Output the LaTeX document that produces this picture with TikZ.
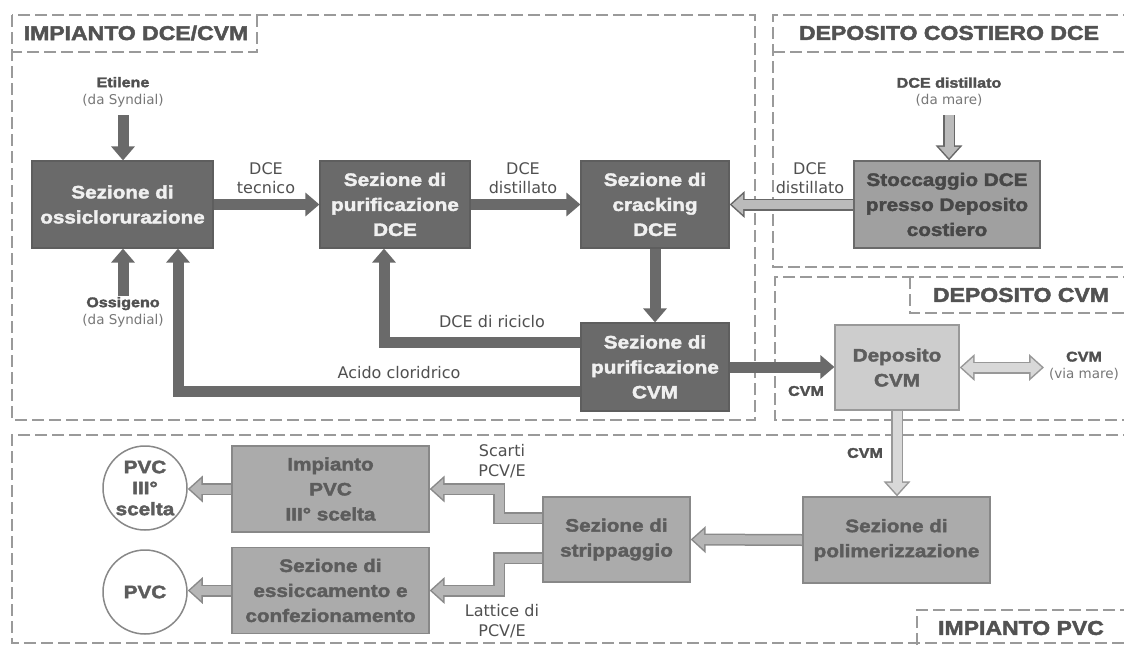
\documentclass[tikz,border=0pt]{standalone}
\usepackage{fontspec}
\setmainfont{DejaVu Sans}
\newfontfamily\blackfont[FakeStretch=1.15,FakeBold=2.2]{Liberation Sans Bold}
\usetikzlibrary{arrows.meta,calc}
\pgfdeclarelayer{bg}
\pgfsetlayers{bg,main}
\definecolor{dkfill}{HTML}{6A6A6A}
\definecolor{dkline}{HTML}{5E5E5E}
\definecolor{dktext}{HTML}{F0F0F0}
\definecolor{dkarr}{HTML}{6A6A6A}
\definecolor{sfill}{HTML}{A0A0A0}
\definecolor{sline}{HTML}{6A6A6A}
\definecolor{stext}{HTML}{474747}
\definecolor{lfill}{HTML}{CDCDCD}
\definecolor{lline}{HTML}{999999}
\definecolor{ltext}{HTML}{5E5E5E}
\definecolor{mfill}{HTML}{ABABAB}
\definecolor{mline}{HTML}{888888}
\definecolor{mtext}{HTML}{5C5C5C}
\definecolor{cline}{HTML}{888888}
\definecolor{regcol}{HTML}{9A9A9A}
\definecolor{ttext}{HTML}{525252}
\definecolor{labcol}{HTML}{505050}
\definecolor{parcol}{HTML}{777777}
\definecolor{aout}{HTML}{686868}
\definecolor{ain}{HTML}{BBBBBB}
\definecolor{bout}{HTML}{989898}
\definecolor{bin}{HTML}{D8D8D8}
\definecolor{cout}{HTML}{8A8A8A}
\definecolor{cin}{HTML}{B6B6B6}
\newcommand\boxfont{\blackfont\fontsize{18}{25}\selectfont}
\newcommand\circfont{\blackfont\fontsize{18}{21}\selectfont}
\newcommand\titlefont{\blackfont\fontsize{20}{24}\selectfont}
\newcommand\labfont{\rmfamily\fontsize{16}{19.5}\selectfont}
\newcommand\blabfont{\blackfont\fontsize{14}{17}\selectfont}
\newcommand\parenfont{\rmfamily\fontsize{13.5}{17}\selectfont\color{parcol}}
\begin{document}
\begin{tikzpicture}[x=1pt,y=-1pt,
  box/.style={rectangle, line width=1.2pt, align=center, inner sep=2pt, font=\boxfont},
  dbox/.style={box, fill=dkfill, draw=dkline, text=dktext},
  sbox/.style={box, fill=sfill, draw=sline, text=stext},
  lbox/.style={box, fill=lfill, draw=lline, text=ltext},
  mbox/.style={box, fill=mfill, draw=mline, text=mtext},
  circnode/.style={circle, draw=cline, line width=1.5pt, fill=white, minimum size=84pt, inner sep=0pt},
  circtext/.style={align=center, font=\circfont, text=mtext},
  region/.style={draw=regcol, line width=2.5pt, dash pattern=on 12pt off 5pt},
  rtitle/.style={font=\titlefont, text=ttext},
  lab/.style={align=center, font=\labfont, text=labcol},
  blab/.style={align=center, font=\blabfont, text=labcol},
  darr/.style={draw=dkarr, line width=11pt, -{Triangle[width=23pt,length=14pt]}},
  oout/.style={draw=#1, line width=12pt, >={Triangle[width=26pt,length=15pt]}},
  oin/.style={draw=#1, line width=9pt, shorten >=2.3pt, >={Triangle[width=19.4pt,length=11.2pt]}},
]
\useasboundingbox (0,0) rectangle (1124,645);

% process boxes
\node[dbox, minimum width=181pt, minimum height=87pt] (oss) at (122.5,204.5) {Sezione di\\ossiclorurazione};
\node[dbox, minimum width=150pt, minimum height=87pt] (purDCE) at (395,204.5) {Sezione di\\purificazione\\DCE};
\node[dbox, minimum width=148pt, minimum height=87pt] (crack) at (655,204.5) {Sezione di\\cracking\\DCE};
\node[dbox, minimum width=148pt, minimum height=88pt] (purCVM) at (655,367) {Sezione di\\purificazione\\CVM};
\node[sbox, minimum width=186pt, minimum height=87pt] (stocc) at (947,204.5) {Stoccaggio DCE\\presso Deposito\\costiero};
\node[lbox, minimum width=124pt, minimum height=85pt] (depCVM) at (897,367.5) {Deposito\\CVM};
\node[mbox, minimum width=187pt, minimum height=86pt] (polim) at (896.5,540) {Sezione di\\polimerizzazione};
\node[mbox, minimum width=147pt, minimum height=85pt] (stripp) at (616.5,539.5) {Sezione di\\strippaggio};
\node[mbox, minimum width=197pt, minimum height=86pt] (impPVC) at (330.5,489) {Impianto\\PVC\\III° scelta};
\node[mbox, minimum width=197pt, minimum height=86pt] (essic) at (330.5,590.5) {Sezione di\\essiccamento e\\confezionamento};
\node[circnode] (c1) at (145,488) {};
\node[circtext] (c1t) at (c1) {PVC\\III°\\scelta};
\node[circnode] (c2) at (145,592) {};
\node[circtext] (c2t) at (c2) {PVC};

% region titles
\node[rtitle] (t1) at (136,33) {IMPIANTO DCE/CVM};
\node[rtitle] (t2) at (949,33) {DEPOSITO COSTIERO DCE};
\node[rtitle] (t3) at (1021,295) {DEPOSITO CVM};
\node[rtitle] (t4) at (1021,628) {IMPIANTO PVC};

% labels
\node[blab] (letil) at (123,92) {Etilene\\{\parenfont (da Syndial)}};
\node[blab] (lossi) at (123,312) {Ossigeno\\{\parenfont (da Syndial)}};
\node[blab] (lmare) at (949,92) {DCE distillato\\{\parenfont (da mare)}};
\node[blab] (lvia) at (1084,366) {CVM\\{\parenfont (via mare)}};
\node[lab] (ltec) at (266,178) {DCE\\tecnico};
\node[lab] (ldist1) at (523,178) {DCE\\distillato};
\node[lab] (ldist2) at (810,178) {DCE\\distillato};
\node[lab] (lric) at (492,322) {DCE di riciclo};
\node[lab] (lhcl) at (399,373) {Acido cloridrico};
\node[blab] (lcvm1) at (806,391) {CVM};
\node[blab] (lcvm2) at (865,453) {CVM};
\node[lab] (lsc) at (502,461) {Scarti\\PCV/E};
\node[lab] (llat) at (502,621) {Lattice di\\PCV/E};

% free ends and bends
\coordinate (etop) at (123,115);
\coordinate (obot) at (123,296);
\coordinate (chcl) at (178,391);
\coordinate (cric) at (384,342);
\coordinate (cmare) at (949,115);
\coordinate (cvia) at (1044,367);
\coordinate (csc) at (499,518);
\coordinate (cla) at (499,558);

\begin{pgfonlayer}{bg}
\fill[white] (0,0) rectangle (1124,645);
% regions
\draw[region] (12,15) rectangle (755,420);
\draw[region] (257,15) -- (257,52) -- (12,52);
\draw[region] (1135,15) -- (773,15) -- (773,267) -- (1135,267);
\draw[region] (773,52) -- (1135,52);
\draw[region] (1135,277) -- (775,277) -- (775,420) -- (1135,420);
\draw[region] (910,277) -- (910,313) -- (1135,313);
\draw[region] (1135,435) -- (12,435) -- (12,643) -- (1135,643);
\draw[region] (917,645) -- (917,610) -- (1135,610);

% dark arrows
\draw[darr] (etop) -- (etop |- oss.north);
\draw[darr] (obot) -- (obot |- oss.south);
\draw[darr] (purCVM.west |- chcl) -- (chcl) -- (chcl |- oss.south);
\draw[darr] (purCVM.west |- cric) -- (cric) -- (cric |- purDCE.south);
\draw[darr] (oss.east) -- (purDCE.west);
\draw[darr] (purDCE.east) -- (crack.west);
\draw[darr] (crack.south) -- (purCVM.north);
\draw[darr] (purCVM.east) -- (purCVM.east -| depCVM.west);

% outline arrows
\draw[oout=aout,->] (stocc.west) -- (crack.east);
\draw[oin=ain,->] (stocc.west) -- (crack.east);
\draw[oout=aout,->] (cmare) -- (cmare |- stocc.north);
\draw[oin=ain,->] (cmare) -- (cmare |- stocc.north);
\draw[oout=bout,<->] (depCVM.east) -- (depCVM.east -| cvia);
\draw[oin=bin,<->,shorten <=2.3pt] (depCVM.east) -- (depCVM.east -| cvia);
\draw[oout=bout,->] (depCVM.south) -- (depCVM.south |- polim.north);
\draw[oin=bin,->] (depCVM.south) -- (depCVM.south |- polim.north);
\draw[oout=cout,->] (polim.west) -- (stripp.east);
\draw[oin=cin,->] (polim.west) -- (stripp.east);
\draw[oout=cout,->] (stripp.west |- csc) -- (csc) -- (csc |- impPVC.east) -- (impPVC.east);
\draw[oin=cin,->] (stripp.west |- csc) -- (csc) -- (csc |- impPVC.east) -- (impPVC.east);
\draw[oout=cout,->] (stripp.west |- cla) -- (cla) -- (cla |- essic.east) -- (essic.east);
\draw[oin=cin,->] (stripp.west |- cla) -- (cla) -- (cla |- essic.east) -- (essic.east);
\draw[oout=cout,->] (impPVC.west) -- (impPVC.west -| c1.east);
\draw[oin=cin,->] (impPVC.west) -- (impPVC.west -| c1.east);
\draw[oout=cout,->] (essic.west) -- (essic.west -| c2.east);
\draw[oin=cin,->] (essic.west) -- (essic.west -| c2.east);
\end{pgfonlayer}
\end{tikzpicture}
\end{document}
